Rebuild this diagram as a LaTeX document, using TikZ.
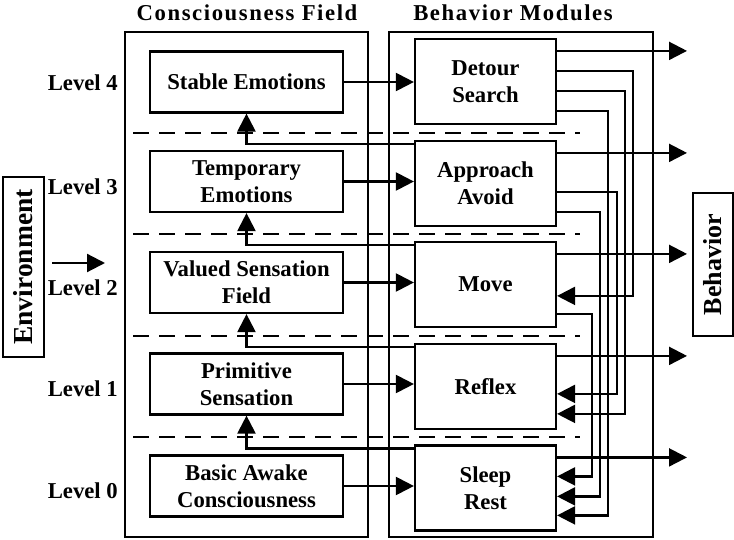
\documentclass[tikz,border=0pt]{standalone}
\usepackage{fontspec}
\setmainfont{Liberation Serif}
\usetikzlibrary{arrows.meta,calc}
\begin{document}
\begin{tikzpicture}[x=1pt,y=-1pt,
  every node/.style={font=\fontsize{22.7}{27}\selectfont\bfseries},
  box/.style={draw,line width=2.2pt,inner sep=0pt,align=center},
  lbox/.style={box,minimum width=193pt,minimum height=61pt},
  rbox/.style={box,minimum width=141pt,minimum height=85pt},
  frame/.style={draw,line width=2.2pt,inner sep=0pt},
  link/.style={line width=2.2pt},
  arr/.style={link,-{Triangle[length=18pt,width=18pt]}},
  sep/.style={line width=2.2pt,dash pattern=on 16pt off 10pt},
  lvl/.style={anchor=east,inner sep=0pt},
  head/.style={inner sep=0pt,font=\fontsize{22.7}{27}\selectfont\bfseries\addfontfeature{LetterSpace=7}},
  side/.style={box,rotate=90}]
\useasboundingbox (0,0) rectangle (734,540);

% containers and headings
\node[frame,minimum width=243pt,minimum height=505pt] (cf) at (246.5,284.5) {};
\node[frame,minimum width=264pt,minimum height=505pt] (bm) at (521,284.5) {};
\node[head] (cfh) at (247,13) {Consciousness Field};
\node[head] (bmh) at (513,13) {Behavior Modules};

% level separators
\foreach \y/\n in {133/1,234/2,336/3,437/4}{
  \coordinate (s\n a) at (133,\y);
  \coordinate (s\n b) at (580,\y);
  \draw[sep] (s\n a) -- (s\n b);
}

% level labels
\node[lvl] (l4) at (118,83) {Level 4};
\node[lvl] (l3) at (118,187) {Level 3};
\node[lvl] (l2) at (118,288) {Level 2};
\node[lvl] (l1) at (118,389) {Level 1};
\node[lvl] (l0) at (118,491) {Level 0};

% consciousness levels
\node[lbox] (se) at (246.5,82) {Stable Emotions};
\node[lbox] (te) at (246.5,181.5) {Temporary\\Emotions};
\node[lbox] (vs) at (246.5,282.5) {Valued Sensation\\Field};
\node[lbox] (ps) at (246.5,384) {Primitive\\Sensation};
\node[lbox] (ba) at (246.5,486) {Basic Awake\\Consciousness};

% behavior modules
\node[rbox] (ds) at (485.5,81.5) {Detour\\Search};
\node[rbox] (aa) at (485.5,183.5) {Approach\\Avoid};
\node[rbox] (mv) at (485.5,284.5) {Move};
\node[rbox] (rf) at (485.5,386.5) {Reflex};
\node[rbox] (sr) at (485.5,488) {Sleep\\Rest};

% environment and behavior
\node[side,minimum width=180pt,minimum height=41pt,font=\fontsize{27.5}{32}\selectfont\bfseries] (env) at (23.5,267) {Environment};
\node[side,minimum width=143pt,minimum height=40pt,font=\fontsize{26}{30}\selectfont\bfseries] (beh) at (713,264.5) {Behavior};
\coordinate (ea) at (52,263);
\coordinate (eb) at (105,263);
\draw[arr] (ea) -- (eb);

% level -> module
\foreach \a/\b in {se/ds,te/aa,vs/mv,ps/rf,ba/sr}
  \draw[arr] (\a.east) -- (\a.east -| \b.west);

% module -> next level up
\foreach \m/\l in {aa/se,mv/te,rf/vs,sr/ps}{
  \path ([yshift=-4pt]\m.north west) coordinate (\m-up);
  \draw[arr] (\m-up) -| (\l.south);
}

% module outputs
\coordinate (outx) at (687,0);
\foreach \b in {ds,aa,mv,rf,sr}{
  \path ([yshift=-13pt]\b.north east) coordinate (\b-o);
  \draw[arr] (\b-o) -- (\b-o -| outx);
}

% inhibition rails down the right side
\coordinate (x1) at (633,0);
\coordinate (x2) at (625,0);
\coordinate (x3) at (608,0);
\coordinate (x4) at (617,0);
\coordinate (x5) at (600,0);
\coordinate (x6) at (592,0);
\foreach \s/\so/\t/\to/\x [count=\i] in {ds/-33pt/mv/-55pt/x1, ds/-53pt/rf/-71pt/x2,
    ds/-73pt/sr/-71pt/x3, aa/-52pt/rf/-51pt/x4, aa/-72pt/sr/-52pt/x5, mv/-73pt/sr/-32pt/x6}{
  \path ([yshift=\so]\s.north east) coordinate (p\i);
  \path ([yshift=\to]\t.north east) coordinate (q\i);
  \draw[arr] (p\i) -| (\x |- q\i) -- (q\i);
}
\end{tikzpicture}
\end{document}
